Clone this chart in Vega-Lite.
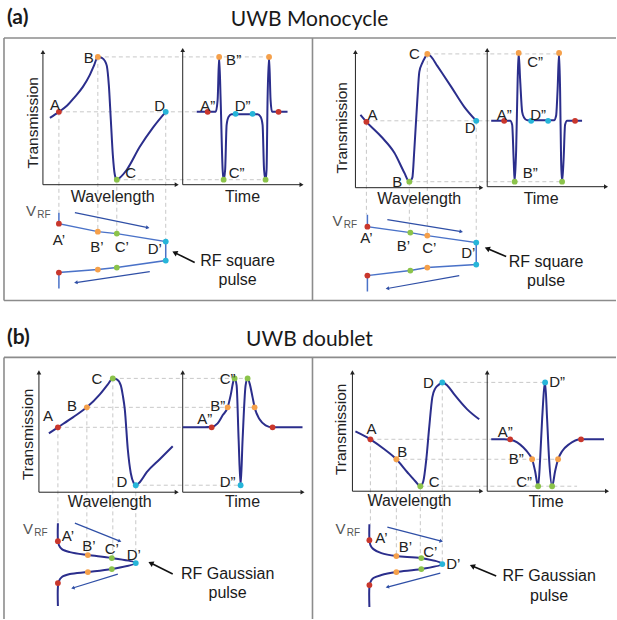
{
"$schema": "https://vega.github.io/schema/vega-lite/v6.json",
"width": 617, "height": 620,
"autosize": {"type": "fit", "contains": "padding"},
"padding": 0,
"background": "white",
"config": {"view": {"stroke": null}},
"datasets": {
"box": [
{"x":4,"y":38,"x2":617,"y2":38},{"x":4,"y":38,"x2":4,"y2":301},{"x":4,"y":301,"x2":617,"y2":301},{"x":313,"y":38,"x2":313,"y2":301},
{"x":4,"y":358,"x2":617,"y2":358},{"x":4,"y":358,"x2":4,"y2":620},{"x":313,"y":358,"x2":313,"y2":620}
],
"guide": [
{"x":98,"y":57,"x2":269,"y2":57},{"x":59,"y":112,"x2":197,"y2":112},{"x":117,"y":180,"x2":266,"y2":180},
{"x":59,"y":112,"x2":59,"y2":213},{"x":98,"y":57,"x2":98,"y2":232},{"x":117,"y":180,"x2":117,"y2":234},{"x":166,"y":112,"x2":166,"y2":242},
{"x":428,"y":54,"x2":560,"y2":54},{"x":367,"y":121,"x2":492,"y2":121},{"x":410,"y":182,"x2":563,"y2":182},
{"x":367,"y":122,"x2":367,"y2":215},{"x":410,"y":182,"x2":410,"y2":233},{"x":428,"y":54,"x2":428,"y2":236},{"x":477,"y":121,"x2":477,"y2":243},
{"x":113,"y":379,"x2":248,"y2":379},{"x":87,"y":408,"x2":255,"y2":408},{"x":58,"y":428,"x2":183,"y2":428},{"x":136,"y":486,"x2":241,"y2":486},
{"x":58,"y":428,"x2":58,"y2":524},{"x":87,"y":408,"x2":87,"y2":556},{"x":113,"y":379,"x2":113,"y2":559},{"x":136,"y":486,"x2":136,"y2":564},
{"x":443,"y":383,"x2":546,"y2":383},{"x":371,"y":440,"x2":492,"y2":440},{"x":397,"y":460,"x2":559,"y2":460},{"x":421,"y":487,"x2":578,"y2":487},
{"x":371,"y":440,"x2":371,"y2":525},{"x":397,"y":460,"x2":397,"y2":557},{"x":421,"y":487,"x2":421,"y2":559},{"x":443,"y":383,"x2":443,"y2":565}
],
"axis": [
{"x":43,"y":185,"x2":43,"y2":52},{"x":43,"y":185,"x2":177,"y2":185},{"x":183,"y":185,"x2":183,"y2":50},{"x":183,"y":185,"x2":302,"y2":185},
{"x":356,"y":188,"x2":356,"y2":52},{"x":356,"y":188,"x2":482,"y2":188},{"x":488,"y":187,"x2":488,"y2":50},{"x":488,"y":187,"x2":607,"y2":187},
{"x":39,"y":493,"x2":39,"y2":373},{"x":39,"y":493,"x2":177,"y2":493},{"x":183,"y":493,"x2":183,"y2":373},{"x":183,"y":493,"x2":303,"y2":493},
{"x":353,"y":492,"x2":353,"y2":373},{"x":353,"y":492,"x2":482,"y2":492},{"x":488,"y":492,"x2":488,"y2":373},{"x":488,"y":492,"x2":608,"y2":492}
],
"barrow": [
{"x":75,"y":213,"x2":148,"y2":228},{"x":150,"y":272,"x2":76,"y2":283},{"x":388,"y":220,"x2":462,"y2":232},{"x":460,"y":276,"x2":388,"y2":289},
{"x":75,"y":524,"x2":120,"y2":542},{"x":118,"y":575,"x2":73,"y2":589},{"x":388,"y":528,"x2":442,"y2":542},{"x":441,"y":574,"x2":388,"y2":588}
],
"karrow": [
{"x":195,"y":263,"x2":175,"y2":253},{"x":507,"y":257,"x2":488,"y2":249},{"x":173,"y":575,"x2":151,"y2":564},{"x":497,"y":577,"x2":473,"y2":567}
],
"curve": [
{"id":"aLT","g":"m","o":1,"x":50,"y":118},{"id":"aLT","g":"m","o":2,"x":59,"y":112},{"id":"aLT","g":"m","o":3,"x":67,"y":106},{"id":"aLT","g":"m","o":4,"x":75,"y":97},{"id":"aLT","g":"m","o":5,"x":83,"y":87},{"id":"aLT","g":"m","o":6,"x":90,"y":75},{"id":"aLT","g":"m","o":7,"x":94,"y":66},{"id":"aLT","g":"m","o":8,"x":98,"y":57},{"id":"aLT","g":"m","o":9,"x":102,"y":58},{"id":"aLT","g":"m","o":10,"x":105,"y":61},{"id":"aLT","g":"m","o":11,"x":107,"y":66},{"id":"aLT","g":"m","o":12,"x":109,"y":85},{"id":"aLT","g":"m","o":13,"x":111,"y":120},{"id":"aLT","g":"m","o":14,"x":113,"y":155},{"id":"aLT","g":"m","o":15,"x":115,"y":175},{"id":"aLT","g":"m","o":16,"x":117,"y":180},{"id":"aLT","g":"m","o":17,"x":120,"y":178},{"id":"aLT","g":"m","o":18,"x":127,"y":170},{"id":"aLT","g":"m","o":19,"x":140,"y":147},{"id":"aLT","g":"m","o":20,"x":153,"y":128},{"id":"aLT","g":"m","o":21,"x":166,"y":112},
{"id":"aLt","g":"m","o":1,"x":197,"y":112},{"id":"aLt","g":"m","o":2,"x":216,"y":112},{"id":"aLt","g":"m","o":3,"x":218,"y":100},{"id":"aLt","g":"m","o":4,"x":219.5,"y":57},{"id":"aLt","g":"m","o":5,"x":221,"y":100},{"id":"aLt","g":"m","o":6,"x":223,"y":170},{"id":"aLt","g":"m","o":7,"x":224,"y":180},{"id":"aLt","g":"m","o":8,"x":225.5,"y":170},{"id":"aLt","g":"m","o":9,"x":227,"y":125},{"id":"aLt","g":"m","o":10,"x":229,"y":117},{"id":"aLt","g":"m","o":11,"x":232,"y":114.5},{"id":"aLt","g":"m","o":12,"x":258,"y":114.5},{"id":"aLt","g":"m","o":13,"x":261,"y":117},{"id":"aLt","g":"m","o":14,"x":263,"y":125},{"id":"aLt","g":"m","o":15,"x":264.5,"y":170},{"id":"aLt","g":"m","o":16,"x":266,"y":180},{"id":"aLt","g":"m","o":17,"x":267,"y":170},{"id":"aLt","g":"m","o":18,"x":268,"y":100},{"id":"aLt","g":"m","o":19,"x":269.5,"y":57},{"id":"aLt","g":"m","o":20,"x":271,"y":100},{"id":"aLt","g":"m","o":21,"x":272.5,"y":112},{"id":"aLt","g":"m","o":22,"x":288,"y":112},
{"id":"aRT","g":"m","o":1,"x":361,"y":115},{"id":"aRT","g":"m","o":2,"x":367,"y":122},{"id":"aRT","g":"m","o":3,"x":382,"y":137},{"id":"aRT","g":"m","o":4,"x":395,"y":153},{"id":"aRT","g":"m","o":5,"x":405,"y":173},{"id":"aRT","g":"m","o":6,"x":410,"y":182},{"id":"aRT","g":"m","o":7,"x":413,"y":178},{"id":"aRT","g":"m","o":8,"x":415,"y":150},{"id":"aRT","g":"m","o":9,"x":418,"y":100},{"id":"aRT","g":"m","o":10,"x":420,"y":72},{"id":"aRT","g":"m","o":11,"x":423,"y":63},{"id":"aRT","g":"m","o":12,"x":426,"y":57},{"id":"aRT","g":"m","o":13,"x":428,"y":54},{"id":"aRT","g":"m","o":14,"x":432,"y":57},{"id":"aRT","g":"m","o":15,"x":438,"y":66},{"id":"aRT","g":"m","o":16,"x":452,"y":87},{"id":"aRT","g":"m","o":17,"x":465,"y":107},{"id":"aRT","g":"m","o":18,"x":477,"y":121},
{"id":"aRt","g":"m","o":1,"x":492,"y":121},{"id":"aRt","g":"m","o":2,"x":511,"y":121},{"id":"aRt","g":"m","o":3,"x":513,"y":125},{"id":"aRt","g":"m","o":4,"x":514.5,"y":160},{"id":"aRt","g":"m","o":5,"x":515.5,"y":182},{"id":"aRt","g":"m","o":6,"x":517,"y":150},{"id":"aRt","g":"m","o":7,"x":518.5,"y":80},{"id":"aRt","g":"m","o":8,"x":519.5,"y":53},{"id":"aRt","g":"m","o":9,"x":521,"y":80},{"id":"aRt","g":"m","o":10,"x":523,"y":112},{"id":"aRt","g":"m","o":11,"x":525,"y":118},{"id":"aRt","g":"m","o":12,"x":528,"y":120.5},{"id":"aRt","g":"m","o":13,"x":555,"y":120.5},{"id":"aRt","g":"m","o":14,"x":557,"y":116},{"id":"aRt","g":"m","o":15,"x":558.5,"y":90},{"id":"aRt","g":"m","o":16,"x":560,"y":53},{"id":"aRt","g":"m","o":17,"x":561,"y":90},{"id":"aRt","g":"m","o":18,"x":562,"y":160},{"id":"aRt","g":"m","o":19,"x":563,"y":182},{"id":"aRt","g":"m","o":20,"x":564.5,"y":160},{"id":"aRt","g":"m","o":21,"x":566,"y":125},{"id":"aRt","g":"m","o":22,"x":568,"y":121},{"id":"aRt","g":"m","o":23,"x":583,"y":121},
{"id":"bLT","g":"m","o":1,"x":49,"y":434},{"id":"bLT","g":"m","o":2,"x":58,"y":428},{"id":"bLT","g":"m","o":3,"x":73,"y":418},{"id":"bLT","g":"m","o":4,"x":87,"y":408},{"id":"bLT","g":"m","o":5,"x":100,"y":395},{"id":"bLT","g":"m","o":6,"x":108,"y":385},{"id":"bLT","g":"m","o":7,"x":113,"y":379},{"id":"bLT","g":"m","o":8,"x":117,"y":380},{"id":"bLT","g":"m","o":9,"x":121,"y":386},{"id":"bLT","g":"m","o":10,"x":123,"y":396},{"id":"bLT","g":"m","o":11,"x":125,"y":410},{"id":"bLT","g":"m","o":12,"x":128,"y":450},{"id":"bLT","g":"m","o":13,"x":131,"y":474},{"id":"bLT","g":"m","o":14,"x":134,"y":484},{"id":"bLT","g":"m","o":15,"x":136,"y":486},{"id":"bLT","g":"m","o":16,"x":140,"y":483},{"id":"bLT","g":"m","o":17,"x":147,"y":473},{"id":"bLT","g":"m","o":18,"x":160,"y":460},{"id":"bLT","g":"m","o":19,"x":173,"y":447},
{"id":"bLt","g":"m","o":1,"x":183,"y":428},{"id":"bLt","g":"m","o":2,"x":205,"y":428},{"id":"bLt","g":"m","o":3,"x":212,"y":427.5},{"id":"bLt","g":"m","o":4,"x":218,"y":424},{"id":"bLt","g":"m","o":5,"x":223,"y":416},{"id":"bLt","g":"m","o":6,"x":228,"y":408},{"id":"bLt","g":"m","o":7,"x":231,"y":396},{"id":"bLt","g":"m","o":8,"x":234,"y":381},{"id":"bLt","g":"m","o":9,"x":235,"y":379},{"id":"bLt","g":"m","o":10,"x":237,"y":386},{"id":"bLt","g":"m","o":11,"x":239,"y":440},{"id":"bLt","g":"m","o":12,"x":241,"y":486},{"id":"bLt","g":"m","o":13,"x":243,"y":440},{"id":"bLt","g":"m","o":14,"x":246,"y":386},{"id":"bLt","g":"m","o":15,"x":248,"y":379},{"id":"bLt","g":"m","o":16,"x":250,"y":384},{"id":"bLt","g":"m","o":17,"x":253,"y":398},{"id":"bLt","g":"m","o":18,"x":255,"y":408},{"id":"bLt","g":"m","o":19,"x":260,"y":420},{"id":"bLt","g":"m","o":20,"x":266,"y":426},{"id":"bLt","g":"m","o":21,"x":273,"y":428},{"id":"bLt","g":"m","o":22,"x":303,"y":428},
{"id":"bRT","g":"m","o":1,"x":356,"y":432},{"id":"bRT","g":"m","o":2,"x":371,"y":440},{"id":"bRT","g":"m","o":3,"x":385,"y":450},{"id":"bRT","g":"m","o":4,"x":397,"y":460},{"id":"bRT","g":"m","o":5,"x":408,"y":473},{"id":"bRT","g":"m","o":6,"x":416,"y":482},{"id":"bRT","g":"m","o":7,"x":421,"y":487},{"id":"bRT","g":"m","o":8,"x":424,"y":482},{"id":"bRT","g":"m","o":9,"x":427,"y":460},{"id":"bRT","g":"m","o":10,"x":430,"y":427},{"id":"bRT","g":"m","o":11,"x":433,"y":398},{"id":"bRT","g":"m","o":12,"x":436,"y":389},{"id":"bRT","g":"m","o":13,"x":440,"y":385},{"id":"bRT","g":"m","o":14,"x":443,"y":383},{"id":"bRT","g":"m","o":15,"x":448,"y":386},{"id":"bRT","g":"m","o":16,"x":455,"y":395},{"id":"bRT","g":"m","o":17,"x":468,"y":410},{"id":"bRT","g":"m","o":18,"x":480,"y":420},
{"id":"bRt","g":"m","o":1,"x":492,"y":440},{"id":"bRt","g":"m","o":2,"x":505,"y":440},{"id":"bRt","g":"m","o":3,"x":511,"y":440.5},{"id":"bRt","g":"m","o":4,"x":518,"y":443},{"id":"bRt","g":"m","o":5,"x":524,"y":448},{"id":"bRt","g":"m","o":6,"x":530,"y":455},{"id":"bRt","g":"m","o":7,"x":533,"y":460},{"id":"bRt","g":"m","o":8,"x":536,"y":472},{"id":"bRt","g":"m","o":9,"x":539,"y":487},{"id":"bRt","g":"m","o":10,"x":541,"y":460},{"id":"bRt","g":"m","o":11,"x":543,"y":420},{"id":"bRt","g":"m","o":12,"x":546,"y":383},{"id":"bRt","g":"m","o":13,"x":548,"y":420},{"id":"bRt","g":"m","o":14,"x":550,"y":460},{"id":"bRt","g":"m","o":15,"x":553,"y":487},{"id":"bRt","g":"m","o":16,"x":556,"y":472},{"id":"bRt","g":"m","o":17,"x":559,"y":460},{"id":"bRt","g":"m","o":18,"x":563,"y":452},{"id":"bRt","g":"m","o":19,"x":570,"y":445},{"id":"bRt","g":"m","o":20,"x":582,"y":440},{"id":"bRt","g":"m","o":21,"x":605,"y":440},
{"id":"aLV","g":"l","o":1,"x":59,"y":213},{"id":"aLV","g":"l","o":2,"x":59,"y":224},{"id":"aLV","g":"l","o":3,"x":98,"y":232},{"id":"aLV","g":"l","o":4,"x":117,"y":234},{"id":"aLV","g":"l","o":5,"x":166,"y":242},{"id":"aLV","g":"l","o":6,"x":166,"y":261},{"id":"aLV","g":"l","o":7,"x":117,"y":268},{"id":"aLV","g":"l","o":8,"x":98,"y":270},{"id":"aLV","g":"l","o":9,"x":59,"y":273},{"id":"aLV","g":"l","o":10,"x":59,"y":289},
{"id":"aRV","g":"l","o":1,"x":368,"y":215},{"id":"aRV","g":"l","o":2,"x":368,"y":227},{"id":"aRV","g":"l","o":3,"x":411,"y":233},{"id":"aRV","g":"l","o":4,"x":428,"y":236},{"id":"aRV","g":"l","o":5,"x":477,"y":243},{"id":"aRV","g":"l","o":6,"x":477,"y":265},{"id":"aRV","g":"l","o":7,"x":428,"y":268},{"id":"aRV","g":"l","o":8,"x":411,"y":271},{"id":"aRV","g":"l","o":9,"x":368,"y":276},{"id":"aRV","g":"l","o":10,"x":368,"y":292},
{"id":"bLV","g":"c","o":1,"x":58,"y":524},{"id":"bLV","g":"c","o":2,"x":58,"y":540},{"id":"bLV","g":"c","o":3,"x":59,"y":546},{"id":"bLV","g":"c","o":4,"x":62,"y":550},{"id":"bLV","g":"c","o":5,"x":70,"y":553},{"id":"bLV","g":"c","o":6,"x":88,"y":556},{"id":"bLV","g":"c","o":7,"x":112,"y":559},{"id":"bLV","g":"c","o":8,"x":136,"y":564},{"id":"bLV","g":"c","o":9,"x":112,"y":570},{"id":"bLV","g":"c","o":10,"x":88,"y":573},{"id":"bLV","g":"c","o":11,"x":70,"y":575},{"id":"bLV","g":"c","o":12,"x":62,"y":578},{"id":"bLV","g":"c","o":13,"x":59,"y":582},{"id":"bLV","g":"c","o":14,"x":58,"y":588},{"id":"bLV","g":"c","o":15,"x":58,"y":607},
{"id":"bRV","g":"c","o":1,"x":370,"y":525},{"id":"bRV","g":"c","o":2,"x":370,"y":539},{"id":"bRV","g":"c","o":3,"x":371,"y":546},{"id":"bRV","g":"c","o":4,"x":374,"y":550},{"id":"bRV","g":"c","o":5,"x":382,"y":554},{"id":"bRV","g":"c","o":6,"x":397,"y":557},{"id":"bRV","g":"c","o":7,"x":422,"y":559},{"id":"bRV","g":"c","o":8,"x":443,"y":565},{"id":"bRV","g":"c","o":9,"x":422,"y":570},{"id":"bRV","g":"c","o":10,"x":397,"y":573},{"id":"bRV","g":"c","o":11,"x":382,"y":576},{"id":"bRV","g":"c","o":12,"x":374,"y":579},{"id":"bRV","g":"c","o":13,"x":371,"y":583},{"id":"bRV","g":"c","o":14,"x":370,"y":588},{"id":"bRV","g":"c","o":15,"x":370,"y":608}
],
"dot": [
{"x":59,"y":112,"col":"red"},{"x":98,"y":57,"col":"orange"},{"x":117,"y":180,"col":"green"},{"x":166,"y":112,"col":"cyan"},
{"x":208,"y":112,"col":"red"},{"x":219.5,"y":57,"col":"orange"},{"x":224,"y":180,"col":"green"},{"x":236,"y":114,"col":"cyan"},{"x":253,"y":114,"col":"cyan"},{"x":266,"y":180,"col":"green"},{"x":269.5,"y":57,"col":"orange"},{"x":279,"y":112,"col":"red"},
{"x":59,"y":224,"col":"red"},{"x":98,"y":232,"col":"orange"},{"x":117,"y":234,"col":"green"},{"x":166,"y":242,"col":"cyan"},{"x":166,"y":261,"col":"cyan"},{"x":117,"y":268,"col":"green"},{"x":98,"y":270,"col":"orange"},{"x":59,"y":273,"col":"red"},
{"x":367,"y":122,"col":"red"},{"x":410,"y":182,"col":"green"},{"x":428,"y":54,"col":"orange"},{"x":477,"y":121,"col":"cyan"},
{"x":505,"y":121,"col":"red"},{"x":515.5,"y":182,"col":"green"},{"x":519.5,"y":53,"col":"orange"},{"x":532,"y":121,"col":"cyan"},{"x":549,"y":121,"col":"cyan"},{"x":560,"y":53,"col":"orange"},{"x":563,"y":182,"col":"green"},{"x":576,"y":121,"col":"red"},
{"x":368,"y":227,"col":"red"},{"x":411,"y":233,"col":"green"},{"x":428,"y":236,"col":"orange"},{"x":477,"y":243,"col":"cyan"},{"x":477,"y":265,"col":"cyan"},{"x":428,"y":268,"col":"orange"},{"x":411,"y":271,"col":"green"},{"x":368,"y":276,"col":"red"},
{"x":58,"y":428,"col":"red"},{"x":87,"y":408,"col":"orange"},{"x":113,"y":379,"col":"green"},{"x":136,"y":486,"col":"cyan"},
{"x":212,"y":428,"col":"red"},{"x":228,"y":408,"col":"orange"},{"x":235,"y":379,"col":"green"},{"x":241,"y":486,"col":"cyan"},{"x":248,"y":379,"col":"green"},{"x":255,"y":408,"col":"orange"},{"x":273,"y":428,"col":"red"},
{"x":58,"y":542,"col":"red"},{"x":88,"y":556,"col":"orange"},{"x":112,"y":559,"col":"green"},{"x":136,"y":564,"col":"cyan"},{"x":112,"y":570,"col":"green"},{"x":88,"y":573,"col":"orange"},{"x":58,"y":584,"col":"red"},
{"x":371,"y":440,"col":"red"},{"x":397,"y":460,"col":"orange"},{"x":421,"y":487,"col":"green"},{"x":443,"y":383,"col":"cyan"},
{"x":511,"y":440,"col":"red"},{"x":533,"y":460,"col":"orange"},{"x":539,"y":487,"col":"green"},{"x":546,"y":383,"col":"cyan"},{"x":553,"y":487,"col":"green"},{"x":559,"y":460,"col":"orange"},{"x":582,"y":440,"col":"red"},
{"x":370,"y":541,"col":"red"},{"x":397,"y":557,"col":"orange"},{"x":422,"y":559,"col":"green"},{"x":443,"y":565,"col":"cyan"},{"x":422,"y":570,"col":"green"},{"x":397,"y":573,"col":"orange"},{"x":370,"y":586,"col":"red"}
],
"txt": [
{"k":"ttl","t":"UWB Monocycle","x":310,"y":26},{"k":"ttl","t":"UWB doublet","x":310,"y":347},
{"k":"pnl","t":"(a)","x":7,"y":24},{"k":"pnl","t":"(b)","x":7,"y":345},
{"k":"axv","t":"Transmission","x":33,"y":123},{"k":"axv","t":"Transmission","x":343,"y":128},{"k":"axv","t":"Transmission","x":28,"y":435},{"k":"axv","t":"Transmission","x":342,"y":430},
{"k":"ax","t":"Wavelength","x":113,"y":197},{"k":"ax","t":"Wavelength","x":420,"y":199},{"k":"ax","t":"Wavelength","x":110,"y":503},{"k":"ax","t":"Wavelength","x":410,"y":502},
{"k":"ax","t":"Time","x":243,"y":197},{"k":"ax","t":"Time","x":542,"y":199},{"k":"ax","t":"Time","x":243,"y":503},{"k":"ax","t":"Time","x":547,"y":503},
{"k":"lbl","t":"A","x":55,"y":105},{"k":"lbl","t":"B","x":89,"y":58},{"k":"lbl","t":"C","x":131,"y":173},{"k":"lbl","t":"D","x":160,"y":106},
{"k":"lbl","t":"A”","x":208,"y":106},{"k":"lbl","t":"B”","x":234,"y":60},{"k":"lbl","t":"D”","x":243,"y":106},{"k":"lbl","t":"C”","x":237,"y":173},
{"k":"lbl","t":"A’","x":59,"y":240},{"k":"lbl","t":"B’","x":97,"y":247},{"k":"lbl","t":"C’","x":122,"y":247},{"k":"lbl","t":"D’","x":155,"y":249},
{"k":"lbl","t":"A","x":373,"y":115},{"k":"lbl","t":"B","x":398,"y":182},{"k":"lbl","t":"C","x":415,"y":54},{"k":"lbl","t":"D","x":471,"y":128},
{"k":"lbl","t":"A”","x":505,"y":115},{"k":"lbl","t":"C”","x":536,"y":62},{"k":"lbl","t":"D”","x":539,"y":115},{"k":"lbl","t":"B”","x":531,"y":173},
{"k":"lbl","t":"A’","x":367,"y":238},{"k":"lbl","t":"B’","x":404,"y":246},{"k":"lbl","t":"C’","x":430,"y":248},{"k":"lbl","t":"D’","x":469,"y":253},
{"k":"lbl","t":"A","x":48,"y":417},{"k":"lbl","t":"B","x":72,"y":407},{"k":"lbl","t":"C","x":97,"y":380},{"k":"lbl","t":"D","x":122,"y":483},
{"k":"lbl","t":"A”","x":205,"y":420},{"k":"lbl","t":"B”","x":218,"y":407},{"k":"lbl","t":"C”","x":228,"y":380},{"k":"lbl","t":"D”","x":228,"y":483},
{"k":"lbl","t":"A’","x":68,"y":537},{"k":"lbl","t":"B’","x":89,"y":547},{"k":"lbl","t":"C’","x":112,"y":550},{"k":"lbl","t":"D’","x":134,"y":556},
{"k":"lbl","t":"A","x":372,"y":430},{"k":"lbl","t":"B","x":403,"y":453},{"k":"lbl","t":"C","x":435,"y":483},{"k":"lbl","t":"D","x":429,"y":384},
{"k":"lbl","t":"A”","x":506,"y":433},{"k":"lbl","t":"B”","x":517,"y":460},{"k":"lbl","t":"C”","x":525,"y":483},{"k":"lbl","t":"D”","x":558,"y":383},
{"k":"lbl","t":"A’","x":382,"y":539},{"k":"lbl","t":"B’","x":406,"y":548},{"k":"lbl","t":"C’","x":431,"y":553},{"k":"lbl","t":"D’","x":454,"y":565},
{"k":"note","t":"RF square","x":238,"y":261},{"k":"note","t":"pulse","x":238,"y":280},
{"k":"note","t":"RF square","x":547,"y":262},{"k":"note","t":"pulse","x":547,"y":281},
{"k":"note","t":"RF Gaussian","x":228,"y":575},{"k":"note","t":"pulse","x":228,"y":594},
{"k":"note","t":"RF Gaussian","x":550,"y":577},{"k":"note","t":"pulse","x":550,"y":597},
{"k":"v","t":"V","x":31,"y":211},{"k":"sub","t":"RF","x":44,"y":215},
{"k":"v","t":"V","x":338,"y":221},{"k":"sub","t":"RF","x":351,"y":225},
{"k":"v","t":"V","x":28,"y":530},{"k":"sub","t":"RF","x":41,"y":534},
{"k":"v","t":"V","x":341,"y":530},{"k":"sub","t":"RF","x":354,"y":534}
]
},
"encoding": {
"x": {"field": "x", "type": "quantitative", "scale": {"domain": [0, 617], "nice": false, "zero": false}, "axis": null},
"y": {"field": "y", "type": "quantitative", "scale": {"domain": [0, 620], "reverse": true, "nice": false, "zero": false}, "axis": null}
},
"layer": [
{"data": {"name": "box"}, "mark": {"type": "rule", "stroke": "#8c8c8c", "strokeWidth": 1.6}, "encoding": {"x2": {"field": "x2"}, "y2": {"field": "y2"}}},
{"data": {"name": "guide"}, "mark": {"type": "rule", "stroke": "#c8c8c8", "strokeWidth": 1, "strokeDash": [4, 3]}, "encoding": {"x2": {"field": "x2"}, "y2": {"field": "y2"}}},
{"data": {"name": "axis"}, "mark": {"type": "rule", "stroke": "#222222", "strokeWidth": 1}, "encoding": {"x2": {"field": "x2"}, "y2": {"field": "y2"}}},
{"data": {"name": "axis"}, "transform": [{"calculate": "atan2(datum.y2 - datum.y, datum.x2 - datum.x) * 180 / PI", "as": "ang"}],
 "mark": {"type": "point", "shape": "triangle-right", "filled": true, "color": "#222222", "size": 22, "opacity": 1},
 "encoding": {"x": {"field": "x2", "type": "quantitative"}, "y": {"field": "y2", "type": "quantitative"}, "angle": {"field": "ang", "type": "quantitative", "scale": null}}},
{"data": {"name": "barrow"}, "mark": {"type": "rule", "stroke": "#2F4FA6", "strokeWidth": 1.2}, "encoding": {"x2": {"field": "x2"}, "y2": {"field": "y2"}}},
{"data": {"name": "barrow"}, "transform": [{"calculate": "atan2(datum.y2 - datum.y, datum.x2 - datum.x) * 180 / PI", "as": "ang"}],
 "mark": {"type": "point", "shape": "triangle-right", "filled": true, "color": "#2F4FA6", "size": 16, "opacity": 1},
 "encoding": {"x": {"field": "x2", "type": "quantitative"}, "y": {"field": "y2", "type": "quantitative"}, "angle": {"field": "ang", "type": "quantitative", "scale": null}}},
{"data": {"name": "karrow"}, "mark": {"type": "rule", "stroke": "#111111", "strokeWidth": 1.6}, "encoding": {"x2": {"field": "x2"}, "y2": {"field": "y2"}}},
{"data": {"name": "karrow"}, "transform": [{"calculate": "atan2(datum.y2 - datum.y, datum.x2 - datum.x) * 180 / PI", "as": "ang"}],
 "mark": {"type": "point", "shape": "triangle-right", "filled": true, "color": "#111111", "size": 36, "opacity": 1},
 "encoding": {"x": {"field": "x2", "type": "quantitative"}, "y": {"field": "y2", "type": "quantitative"}, "angle": {"field": "ang", "type": "quantitative", "scale": null}}},
{"data": {"name": "curve"}, "transform": [{"filter": "datum.g === 'm'"}], "mark": {"type": "line", "interpolate": "monotone", "stroke": "#2B2E8C", "strokeWidth": 2},
 "encoding": {"detail": {"field": "id"}, "order": {"field": "o", "type": "quantitative"}}},
{"data": {"name": "curve"}, "transform": [{"filter": "datum.g === 'l'"}], "mark": {"type": "line", "interpolate": "linear", "stroke": "#4A72C8", "strokeWidth": 1.5},
 "encoding": {"detail": {"field": "id"}, "order": {"field": "o", "type": "quantitative"}}},
{"data": {"name": "curve"}, "transform": [{"filter": "datum.g === 'c'"}], "mark": {"type": "line", "interpolate": "catmull-rom", "stroke": "#2B2E8C", "strokeWidth": 2},
 "encoding": {"detail": {"field": "id"}, "order": {"field": "o", "type": "quantitative"}}},
{"data": {"name": "dot"}, "mark": {"type": "circle", "size": 34, "opacity": 1},
 "encoding": {"color": {"field": "col", "type": "nominal", "scale": {"domain": ["red", "orange", "green", "cyan"], "range": ["#C9372C", "#F5A04A", "#8BC34A", "#26B5D9"]}, "legend": null}}},
{"data": {"name": "txt"}, "transform": [{"filter": "datum.k === 'ttl'"}], "mark": {"type": "text", "font": "Lato", "fontSize": 21, "align": "center", "baseline": "alphabetic", "color": "#1a1a1a"}, "encoding": {"text": {"field": "t"}}},
{"data": {"name": "txt"}, "transform": [{"filter": "datum.k === 'pnl'"}], "mark": {"type": "text", "font": "Lato", "fontSize": 21, "fontWeight": "bold", "align": "left", "baseline": "alphabetic", "color": "#1a1a1a"}, "encoding": {"text": {"field": "t"}}},
{"data": {"name": "txt"}, "transform": [{"filter": "datum.k === 'axv'"}], "mark": {"type": "text", "font": "Liberation Sans", "fontSize": 15.5, "angle": 270, "align": "center", "baseline": "middle", "color": "#222222"}, "encoding": {"text": {"field": "t"}}},
{"data": {"name": "txt"}, "transform": [{"filter": "datum.k === 'ax'"}], "mark": {"type": "text", "font": "Liberation Sans", "fontSize": 16, "align": "center", "baseline": "middle", "color": "#222222"}, "encoding": {"text": {"field": "t"}}},
{"data": {"name": "txt"}, "transform": [{"filter": "datum.k === 'lbl'"}], "mark": {"type": "text", "font": "Liberation Sans", "fontSize": 15, "align": "center", "baseline": "middle", "color": "#222222"}, "encoding": {"text": {"field": "t"}}},
{"data": {"name": "txt"}, "transform": [{"filter": "datum.k === 'note'"}], "mark": {"type": "text", "font": "Liberation Sans", "fontSize": 16, "align": "center", "baseline": "middle", "color": "#1a1a1a"}, "encoding": {"text": {"field": "t"}}},
{"data": {"name": "txt"}, "transform": [{"filter": "datum.k === 'v'"}], "mark": {"type": "text", "font": "Liberation Sans", "fontSize": 15, "align": "center", "baseline": "middle", "color": "#555555"}, "encoding": {"text": {"field": "t"}}},
{"data": {"name": "txt"}, "transform": [{"filter": "datum.k === 'sub'"}], "mark": {"type": "text", "font": "Liberation Sans", "fontSize": 10, "align": "center", "baseline": "middle", "color": "#555555"}, "encoding": {"text": {"field": "t"}}}
]
}
